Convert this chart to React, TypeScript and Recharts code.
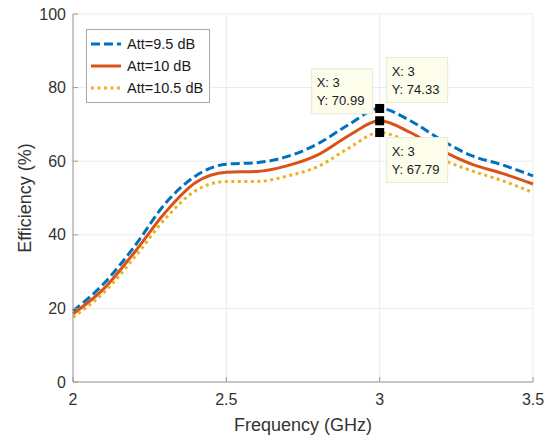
import {
  LineChart,
  Line,
  XAxis,
  YAxis,
  CartesianGrid,
  Legend,
  ReferenceDot,
} from "recharts";

const freq = [2.0, 2.1, 2.2, 2.3, 2.4, 2.5, 2.6, 2.7, 2.8, 2.9, 3.0, 3.1, 3.2, 3.3, 3.4, 3.5];
const att95 = [19.3, 26.7, 36.8, 48.4, 56.0, 59.2, 59.6, 61.3, 64.8, 70.0, 74.33, 71.0, 65.8, 61.5, 59.0, 56.0];
const att10 = [18.5, 25.3, 35.2, 46.0, 54.2, 57.0, 57.2, 58.8, 61.8, 67.0, 70.99, 67.8, 63.0, 59.2, 56.7, 53.8];
const att105 = [17.6, 24.3, 33.8, 44.3, 52.0, 54.5, 54.5, 56.0, 58.6, 63.6, 67.79, 65.0, 60.6, 57.4, 54.7, 51.5];

const xTicks = [2, 2.5, 3, 3.5];
const yTicks = [0, 20, 40, 60, 80, 100];

// data tips at f = 3 GHz
const tipIndex = 10;

const FONT = "'Liberation Sans', Arial, Helvetica, sans-serif";

const series = [
  { key: "a95", name: "Att=9.5 dB", values: att95, color: "#0072BD", dash: "9 4", tip: { dx: 7, dy: -51 } },
  { key: "a10", name: "Att=10 dB", values: att10, color: "#D95319", dash: undefined, tip: { dx: -68, dy: -52 } },
  { key: "a105", name: "Att=10.5 dB", values: att105, color: "#EDB120", dash: "3 3.5", tip: { dx: 7, dy: 5 } },
];

const data = freq.map((f, i) => ({
  f,
  a95: att95[i],
  a10: att10[i],
  a105: att105[i],
}));

function DataTip(props: any) {
  const { cx, cy, xVal, yVal, dx, dy } = props;
  if (cx == null || cy == null) return null;
  const bx = cx + dx;
  const by = cy + dy;
  return (
    <g>
      <rect x={bx} y={by} width={61} height={45} fill="#fdfdec" stroke="#e8e8da" strokeWidth={1} />
      <text x={bx + 5} y={by + 14} fontSize={13} fontFamily={FONT} fill="#1a1a1a" dominantBaseline="central">
        {`X: ${xVal}`}
      </text>
      <text x={bx + 5} y={by + 32} fontSize={13} fontFamily={FONT} fill="#1a1a1a" dominantBaseline="central">
        {`Y: ${yVal.toFixed(2)}`}
      </text>
      <rect x={cx - 4.5} y={cy - 4.5} width={9} height={9} fill="#000" />
    </g>
  );
}

function LegendBox() {
  return (
    <div
      style={{
        border: "1px solid #a8a8a8",
        background: "#fff",
        padding: "3px 6px 3px 3px",
        fontFamily: FONT,
        fontSize: 14.5,
        color: "#1a1a1a",
      }}
    >
      {series.map((s) => (
        <div key={s.key} style={{ display: "flex", alignItems: "center", height: 22 }}>
          <svg width={32} height={10} style={{ marginRight: 5 }}>
            <line x1={1} y1={5} x2={31} y2={5} stroke={s.color} strokeWidth={3} strokeDasharray={s.dash} />
          </svg>
          <span>{s.name}</span>
        </div>
      ))}
    </div>
  );
}

function YLabel(props: any) {
  const vb = props.viewBox || {};
  const x = vb.x + 12;
  const y = vb.y + vb.height / 2;
  return (
    <text
      x={x}
      y={y}
      transform={`rotate(-90 ${x} ${y})`}
      textAnchor="middle"
      dominantBaseline="central"
      fontSize={18}
      fontFamily={FONT}
      fill="#333"
    >
      Efficiency (%)
    </text>
  );
}

const noTick = () => <g />;

export default function App() {
  const axisColor = "#9a9a9a";
  const tickStyle = { fontSize: 16, fontFamily: FONT, fill: "#333" };
  const tickLine = { stroke: axisColor };
  return (
    <div style={{ position: "absolute", left: 0, top: 0, background: "#fff" }}>
      <LineChart width={550} height={437} data={data} margin={{ top: 14, right: 17, left: 13, bottom: 0 }}>
        <CartesianGrid stroke="#ebebeb" strokeWidth={1} />
        <XAxis
          dataKey="f"
          type="number"
          domain={[2, 3.5]}
          ticks={xTicks}
          height={55}
          tickSize={-5}
          tickMargin={17}
          tick={tickStyle}
          stroke={axisColor}
          tickLine={tickLine}
          label={{
            value: "Frequency (GHz)",
            position: "insideBottom",
            offset: 6,
            fontSize: 18,
            fontFamily: FONT,
            fill: "#333",
          }}
        />
        <XAxis
          xAxisId="top"
          orientation="top"
          dataKey="f"
          type="number"
          domain={[2, 3.5]}
          ticks={xTicks}
          height={0}
          tickSize={-5}
          tick={noTick}
          tickLine={tickLine}
          stroke={axisColor}
        />
        <YAxis
          type="number"
          domain={[0, 100]}
          ticks={yTicks}
          width={60}
          tickSize={-5}
          tickMargin={12}
          tick={tickStyle}
          tickLine={tickLine}
          stroke={axisColor}
          label={<YLabel />}
        />
        <YAxis
          yAxisId="right"
          orientation="right"
          domain={[0, 100]}
          ticks={yTicks}
          width={0}
          tickSize={-5}
          tick={noTick}
          tickLine={tickLine}
          stroke={axisColor}
        />
        {series.map((s) => (
          <Line
            key={s.key}
            type="monotone"
            dataKey={s.key}
            name={s.name}
            stroke={s.color}
            strokeWidth={3}
            strokeDasharray={s.dash}
            dot={false}
            activeDot={false}
            isAnimationActive={false}
          />
        ))}
        {series.map((s) => (
          <ReferenceDot
            key={`tip-${s.key}`}
            x={freq[tipIndex]}
            y={s.values[tipIndex]}
            r={4}
            shape={(p: any) => (
              <DataTip {...p} xVal={freq[tipIndex]} yVal={s.values[tipIndex]} dx={s.tip.dx} dy={s.tip.dy} />
            )}
          />
        ))}
        <Legend
          layout="vertical"
          align="center"
          verticalAlign="middle"
          wrapperStyle={{ left: 86, top: 29, width: "auto" }}
          content={() => <LegendBox />}
        />
      </LineChart>
    </div>
  );
}
